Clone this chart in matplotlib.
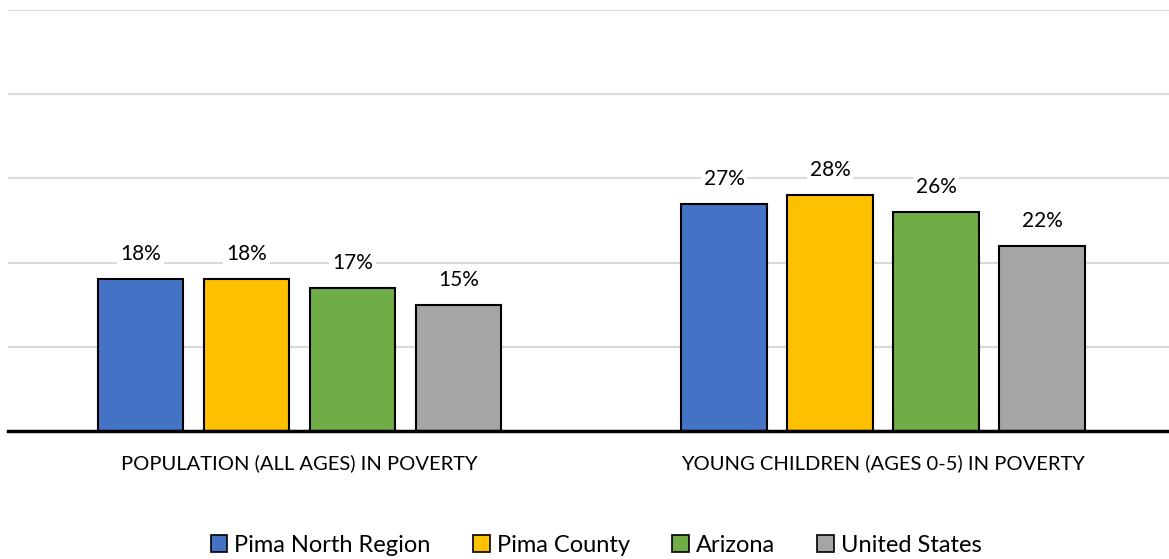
import matplotlib
matplotlib.use("Agg")
import numpy as np
from matplotlib import pyplot as plt
from matplotlib.patches import Patch

plt.rcParams['font.family'] = ['Lato', 'DejaVu Sans']

categories = ['POPULATION (ALL AGES) IN POVERTY', 'YOUNG CHILDREN (AGES 0-5) IN POVERTY']
series = ['Pima North Region', 'Pima County', 'Arizona', 'United States']
values = {
    'Pima North Region': [18, 27],
    'Pima County': [18, 28],
    'Arizona': [17, 26],
    'United States': [15, 22],
}
colors = ['#4472c4', '#ffc000', '#70ad47', '#a5a5a5']

fig = plt.figure(figsize=(11.69, 5.59), dpi=100)
ax = fig.add_axes((8 / 1169, 1 - 431 / 559, 1 - 8 / 1169, 421 / 559))

x = np.arange(len(categories))
pitch = 0.1817
width = 0.146
for i, (name, col) in enumerate(zip(series, colors)):
    xs = x + (i - 1.5) * pitch
    bars = ax.bar(xs, values[name], width, color=col, edgecolor='black', linewidth=1.5, zorder=3)
    for b, v in zip(bars, values[name]):
        ax.annotate(f'{v}%', (b.get_x() + b.get_width() / 2, v), xytext=(0, 18),
                    textcoords='offset points', ha='center', va='center', fontsize=15,
                    bbox=dict(facecolor='white', edgecolor='none', pad=2), zorder=4)

ax.set_xlim(-0.4996, 1.4902)
ax.set_ylim(0, 50)
ax.set_yticks(np.arange(0, 51, 10))
ax.yaxis.grid(True, color='#d9d9d9', linewidth=1.5, zorder=0)
ax.set_yticklabels([])
ax.tick_params(axis='y', length=0)
ax.tick_params(axis='x', length=0, pad=17)
ax.set_xticks(x)
ax.set_xticklabels(categories, fontsize=14.5)
for s in ['top', 'right', 'left']:
    ax.spines[s].set_visible(False)
ax.spines['bottom'].set_linewidth(2.5)
ax.spines['bottom'].set_zorder(5)

handles = [Patch(facecolor=c, edgecolor='black', linewidth=1.2) for c in colors]
fig.legend(handles, series, loc='center', bbox_to_anchor=(0.51, 1 - 545 / 559), ncol=4,
           frameon=False, fontsize=17, handlelength=0.7, handleheight=0.7,
           handletextpad=0.3, columnspacing=1.8)

fig.savefig('out.png', dpi=100)
